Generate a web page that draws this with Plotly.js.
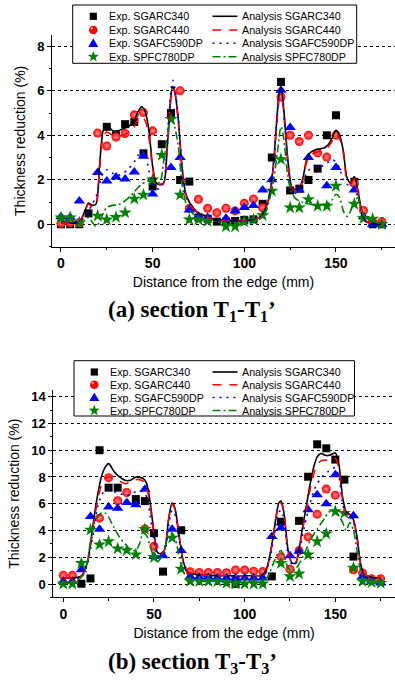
<!DOCTYPE html>
<html>
<head>
<meta charset="utf-8">
<script src="https://cdn.plot.ly/plotly-3.0.1.min.js"></script>
<style>
html,body{margin:0;padding:0;background:#fff;}
#chart{width:395px;height:683px;}
</style>
</head>
<body>
<div id="chart"></div>
<script>
// ---------- Data ----------
const distance = [0,5,10,15,20,25,30,35,40,45,50,55,60,65,70,75,80,85,90,95,100,105,110,115,120,125,130,135,140,145,150,155,160,165,170,175];

// Section T1-T1' experiments
const t1ExpSGARC340  = [0.0,0.0,0.0,0.49,null,4.38,4.0,4.5,4.6,3.19,1.7,3.6,5.0,1.99,1.92,0.3,0.25,0.12,0.12,0.15,0.2,0.22,0.92,3.0,6.4,1.52,1.6,1.99,2.5,4.0,4.9,null,1.91,null,0.0,0.0];
const t1ExpSGARC440  = [0.05,0.07,0.07,null,4.1,3.52,3.92,4.08,4.92,5.02,4.2,null,null,6.0,0.72,1.12,0.72,0.52,0.72,0.6,0.94,1.14,0.74,null,5.72,4.0,3.72,4.0,3.21,3.02,4.0,null,1.84,0.62,0.12,0.12];
const t1ExpSGAFC590DP= [0.34,0.31,1.05,null,2.33,1.94,2.12,2.03,2.35,3.06,1.36,null,2.55,3.0,0.64,0.36,0.3,null,0.27,0.6,0.75,0.84,1.54,2.0,6.03,4.35,1.54,3.0,null,1.73,2.55,null,1.54,0.34,0.0,0.0];
const t1ExpSPFC780DP = [0.3,0.3,0.07,null,0.38,0.21,0.32,0.52,1.14,1.32,2.0,3.11,4.72,1.32,0.21,0.21,0.14,null,-0.1,-0.1,0.12,0.2,0.4,1.5,2.92,0.75,0.75,1.12,0.82,0.82,1.72,null,0.91,0.27,0.24,0.0];

// Section T3-T3' experiments
const t3ExpSGARC340  = [null,null,0.02,0.42,10.0,7.2,7.2,null,6.35,6.2,3.8,0.93,null,4.02,null,null,null,null,null,0.0,null,null,null,0.57,4.65,null,4.72,8.02,10.44,10.14,9.3,7.8,2.05,null,null,null];
const t3ExpSGARC440  = [0.65,0.65,null,null,4.92,7.95,6.22,6.84,null,4.12,2.82,null,null,null,0.92,0.87,0.87,0.87,0.85,1.05,1.05,0.96,0.93,null,2.03,1.1,2.5,3.52,5.22,7.1,6.64,null,1.07,0.82,0.4,0.4];
const t3ExpSGAFC590DP= [0.2,0.2,1.07,5.05,4.1,5.75,5.67,6.1,5.92,7.09,2.06,2.11,4.1,2.5,0.57,0.5,0.5,0.45,0.45,0.45,0.45,0.45,0.45,3.56,4.18,2.11,2.44,5.55,6.67,6.0,8.16,null,5.1,0.57,0.2,0.07];
const t3ExpSPFC780DP = [0.02,0.02,1.55,4.05,2.94,3.18,2.65,2.52,2.2,4.1,2.0,null,3.45,1.12,0.2,0.2,0.2,0.2,0.07,0.02,0.02,0.02,0.02,null,1.55,0.57,0.77,2.19,3.18,3.76,5.42,5.3,1.2,0.2,0.12,0.07];

// Analysis curves (common distance grid)
const analysisX = [0,5,10, 13,15,17,19, 21,23,25, 28,31,34,37, 40,42,44,46,48,50, 52,54,56,58,60, 61,62,64,66,68,70, 74,80,85,90,95,100,105, 108,110,112,114,116,118, 119,120,121,122, 124,126,128,130,132,134,136,138,140, 142,144,146,148,150, 152,154,156,158,160, 162,164,166,170,175];

const t1AnaSGARC340  = [0.05,0.05,0.1, 0.6,0.95,0.85,0.9, 2.6,4.2,4.5, 4.22,4.2,4.3,4.4, 4.7,5.05,5.28,5.05,4.2,2.6, 1.85,1.77,1.85,3.5,5.8, 6.19,6.0,4.7,2.6,1.4,1.0, 0.57,0.33,0.2,0.15,0.13,0.15,0.2, 0.3,0.45,0.8,1.4,2.8,5.0, 5.9,6.15,5.6,4.7, 2.7,1.65,1.55,1.62,2.1,2.9,3.22,3.32,3.37, 3.4,3.45,3.6,3.9,4.22, 4.0,3.3,2.1,1.85,2.15, 1.5,0.6,0.15,0.03,0.0];
const t1AnaSGARC440  = [0.05,0.05,0.1, 0.55,0.9,0.8,0.85, 2.4,3.9,4.15, 4.0,3.95,4.0,4.15, 4.4,4.7,4.85,4.65,3.9,2.5, 1.85,1.8,1.85,3.4,5.7, 6.1,5.95,4.6,2.5,1.35,0.95, 0.55,0.32,0.2,0.15,0.13,0.15,0.2, 0.3,0.45,0.8,1.35,2.7,4.8, 5.6,5.8,5.4,4.5, 2.6,1.6,1.5,1.55,2.0,2.8,3.1,3.2,3.25, 3.3,3.35,3.5,3.75,4.05, 3.85,3.2,2.0,1.8,2.05, 1.4,0.55,0.15,0.03,0.0];
const t1AnaSGAFC590DP= [0.1,0.1,0.15, 0.35,0.6,0.9,1.2, 1.8,2.3,2.45, 2.3,2.2,2.3,2.5, 2.8,3.1,3.3,3.1,2.4,1.8, 1.6,1.6,1.9,3.6,6.0, 6.47,6.2,4.8,2.6,1.3,0.9, 0.5,0.3,0.2,0.15,0.13,0.15,0.2, 0.3,0.45,0.8,1.4,2.8,5.0, 5.9,6.1,5.6,4.6, 2.5,1.5,1.4,1.5,1.9,2.3,2.5,2.55,2.6, 2.6,2.7,2.8,2.9,2.8, 2.5,2.0,1.8,1.7,1.6, 1.2,0.5,0.15,0.03,0.0];
const t1AnaSPFC780DP = [0.15,0.15,0.1, 0.2,0.3,0.1,-0.1, 0.1,0.5,0.75, 0.85,0.87,1.0,1.2, 1.45,1.65,1.8,1.9,1.95,1.9, 1.85,1.9,2.8,4.0,4.84, 4.7,4.4,3.5,1.8,1.0,0.64, 0.35,0.2,0.1,0.05,0.05,0.08,0.15, 0.25,0.35,0.6,1.2,2.0,3.2, 3.9,4.39,4.1,3.5, 2.0,1.4,1.15,1.05,0.98,0.94,0.9,0.87,0.87, 0.88,0.9,0.95,1.1,1.35, 1.2,0.6,0.35,0.6,1.0, 1.2,0.6,0.3,0.12,0.05];

const t3AnaSGARC340  = [0.45,0.45,0.6, 1.5,3.0,5.0,6.7, 8.0,8.7,9.0, 8.4,8.0,7.75,7.75, 8.0,7.96,7.9,7.5,6.0,3.9, 2.35,2.3,2.6,4.8,6.05, 5.9,5.4,3.5,1.8,1.0,0.8, 0.7,0.65,0.62,0.62,0.62,0.62,0.62, 0.62,0.7,1.1,2.2,3.8,5.6, 6.1,6.2,5.8,5.0, 2.5,1.6,1.55,2.6,4.3,5.8,7.4,8.7,9.5, 9.75,9.65,9.6,9.7,9.8, 8.9,6.5,5.4,5.2,4.8, 3.5,1.5,0.7,0.5,0.45];
const t3AnaSGARC440  = [0.45,0.45,0.6, 1.4,2.8,4.7,6.3, 7.4,7.9,8.0, 7.9,7.7,7.5,7.6, 7.8,7.8,7.7,7.2,5.7,3.7, 2.3,2.25,2.6,4.7,5.95, 5.8,5.3,3.4,1.75,1.0,0.8, 0.7,0.65,0.62,0.62,0.62,0.62,0.62, 0.62,0.7,1.1,2.1,3.7,5.5, 6.0,6.05,5.7,4.9, 2.4,1.6,1.55,2.5,4.1,5.5,7.0,8.2,8.9, 9.2,9.25,9.25,9.3,9.4, 8.6,6.3,5.3,5.1,4.7, 3.4,1.4,0.7,0.5,0.45];
const t3AnaSGAFC590DP= [0.3,0.3,0.5, 1.3,2.6,4.3,5.8, 6.6,7.0,7.0, 6.9,6.8,6.6,6.7, 6.9,6.95,6.9,6.5,5.0,3.3, 2.1,2.05,2.4,4.3,5.5, 5.4,5.0,3.2,1.6,0.9,0.7, 0.6,0.55,0.55,0.55,0.55,0.55,0.55, 0.55,0.62,1.0,2.0,3.4,5.0, 5.4,5.5,5.2,4.5, 2.2,1.5,1.45,2.3,3.7,4.9,6.0,6.9,7.5, 7.9,8.2,8.4,8.6,8.7, 8.0,6.0,5.2,5.0,4.6, 3.2,1.3,0.6,0.45,0.4];
const t3AnaSPFC780DP = [0.1,0.15,0.5, 1.5,3.2,4.5,5.0, 5.3,5.3,5.0, 4.2,3.5,3.0,2.6, 2.5,3.0,3.8,3.6,2.8,2.0, 1.7,2.0,2.8,3.5,3.8, 3.6,3.3,2.0,1.0,0.5,0.3, 0.2,0.2,0.2,0.2,0.2,0.2,0.2, 0.2,0.2,0.4,0.9,1.6,2.2, 2.4,2.5,2.3,2.0, 1.2,1.0,1.1,1.5,2.0,2.6,3.2,3.7,4.1, 4.5,4.9,5.3,5.5,5.4, 5.1,4.6,4.0,4.6,4.0, 2.5,1.0,0.4,0.2,0.1];

const expNames = ['Exp. SGARC340','Exp. SGARC440','Exp. SGAFC590DP','Exp. SPFC780DP'];
const anaNames = ['Analysis SGARC340','Analysis SGARC440','Analysis SGAFC590DP','Analysis SPFC780DP'];
const captions = ['<b>(a) section T<sub>1</sub>-T<sub>1</sub>’</b>', '<b>(b) section T<sub>3</sub>-T<sub>3</sub>’</b>'];

// ---------- Styles ----------
const W = 395, H = 683;
const colors = ['#000000','#ff0000','#0000ff','#008000'];
const symbols = ['square','circle','triangle-up','star'];
const msizes = [8,9,10,10];
const dashes = ['solid','9px,8px','2px,5px','8px,3px,2px,3px'];
const fontSans = 'Arial, Liberation Sans, sans-serif';

const traces = [];
function addSection(expSets, anaSets, xa, ya) {
  expSets.forEach((vals, i) => {
    const m = {symbol: symbols[i], size: msizes[i], color: colors[i], line: {width: 0}};
    if (i === 1) m.gradient = {type: 'radial', color: '#ff8c8c'};
    traces.push({
      type: 'scatter', mode: 'markers', x: distance, y: vals, name: expNames[i],
      xaxis: xa, yaxis: ya, showlegend: false, marker: m, cliponaxis: false
    });
  });
  anaSets.forEach((vals, i) => {
    traces.push({
      type: 'scatter', mode: 'lines', x: analysisX, y: vals, name: anaNames[i],
      xaxis: xa, yaxis: ya, showlegend: false,
      line: {color: colors[i], width: 1.6, dash: dashes[i], shape: 'spline', smoothing: 0.8}
    });
  });
}
addSection([t1ExpSGARC340,t1ExpSGARC440,t1ExpSGAFC590DP,t1ExpSPFC780DP],
           [t1AnaSGARC340,t1AnaSGARC440,t1AnaSGAFC590DP,t1AnaSPFC780DP], 'x', 'y');
addSection([t3ExpSGARC340,t3ExpSGARC440,t3ExpSGAFC590DP,t3ExpSPFC780DP],
           [t3AnaSGARC340,t3AnaSGARC440,t3AnaSGAFC590DP,t3AnaSPFC780DP], 'x2', 'y2');

const xTickFont = {family: fontSans, size: 14, color: '#000', weight: 'bold'};
const yTickFont = {family: fontSans, size: 13, color: '#000', weight: 'bold'};
const titleFont = {family: fontSans, size: 14, color: '#000'};

function xAxis(domain, range, anchor) {
  return {
    domain: domain, range: range, anchor: anchor,
    showline: true, linecolor: '#000', linewidth: 1,
    ticks: 'outside', ticklen: 4, tickwidth: 1, tickcolor: '#000',
    tick0: 0, dtick: 50, tickfont: xTickFont,
    minor: {dtick: 25, tick0: 0, ticks: 'outside', ticklen: 2.5, tickcolor: '#000', showgrid: false},
    showgrid: false, zeroline: false,
    title: {text: 'Distance from the edge (mm)', font: titleFont, standoff: 6}
  };
}
function yAxis(domain, range, anchor) {
  return {
    domain: domain, range: range, anchor: anchor,
    showline: true, linecolor: '#000', linewidth: 1,
    ticks: 'outside', ticklen: 4, tickwidth: 1, tickcolor: '#000',
    tick0: 0, dtick: 2, tickfont: yTickFont,
    minor: {dtick: 1, tick0: 0, ticks: 'outside', ticklen: 2.5, tickcolor: '#000', showgrid: false},
    showgrid: true, gridcolor: '#000', gridwidth: 1, griddash: 'dot',
    zeroline: false,
    title: {text: 'Thickness reduction (%)', font: titleFont, standoff: 8}
  };
}

// ---------- Legend boxes (drawn as layout decorations) ----------
const px = v => v / W;
const py = v => 1 - v / H;
const P = (x, y) => px(x) + ',' + py(y);
function glyphPath(kind, cx, cy) {
  if (kind === 'square') {
    const s = 3.6;
    return 'M' + P(cx - s, cy - s) + 'L' + P(cx + s, cy - s) + 'L' + P(cx + s, cy + s) + 'L' + P(cx - s, cy + s) + 'Z';
  }
  if (kind === 'triangle-up') {
    return 'M' + P(cx, cy - 5) + 'L' + P(cx + 5, cy + 3.6) + 'L' + P(cx - 5, cy + 3.6) + 'Z';
  }
  // star
  let d = '';
  for (let k = 0; k < 10; k++) {
    const r = (k % 2 === 0) ? 5.8 : 2.4;
    const a = -Math.PI / 2 + k * Math.PI / 5;
    d += (k === 0 ? 'M' : 'L') + P(cx + r * Math.cos(a), cy + r * Math.sin(a));
  }
  return d + 'Z';
}

const shapes = [];
const annotations = [];
function addLegend(box, rows, markerX, expTextX, lineX0, lineX1, anaTextX) {
  shapes.push({type: 'rect', xref: 'paper', yref: 'paper', layer: 'above',
    x0: px(box[0]), x1: px(box[1]), y0: py(box[3]), y1: py(box[2]),
    fillcolor: '#ffffff', line: {color: '#000', width: 1}});
  rows.forEach((ry, i) => {
    if (symbols[i] === 'circle') {
      shapes.push({type: 'circle', xref: 'paper', yref: 'paper', layer: 'above',
        x0: px(markerX - 4.3), x1: px(markerX + 4.3), y0: py(ry + 4.3), y1: py(ry - 4.3),
        fillcolor: colors[i], line: {width: 0}});
      shapes.push({type: 'circle', xref: 'paper', yref: 'paper', layer: 'above',
        x0: px(markerX - 2.6), x1: px(markerX - 0.4), y0: py(ry - 0.6), y1: py(ry - 2.8),
        fillcolor: '#ffd0d0', line: {width: 0}});
    } else {
      shapes.push({type: 'path', xref: 'paper', yref: 'paper', layer: 'above',
        path: glyphPath(symbols[i], markerX, ry), fillcolor: colors[i], line: {width: 0}});
    }
    shapes.push({type: 'line', xref: 'paper', yref: 'paper', layer: 'above',
      x0: px(lineX0), x1: px(lineX1), y0: py(ry), y1: py(ry),
      line: {color: colors[i], width: 1.6, dash: dashes[i]}});
    annotations.push({xref: 'paper', yref: 'paper', x: px(expTextX), y: py(ry), xanchor: 'left', yanchor: 'middle',
      showarrow: false, text: expNames[i], font: {family: fontSans, size: 10.7, color: '#000'}, borderpad: 0});
    annotations.push({xref: 'paper', yref: 'paper', x: px(anaTextX), y: py(ry), xanchor: 'left', yanchor: 'middle',
      showarrow: false, text: anaNames[i], font: {family: fontSans, size: 10.7, color: '#000'}, borderpad: 0});
  });
}
addLegend([72.7, 356.7, 5, 63.3], [16.3, 30, 43.3, 56.7], 93.3, 107.5, 212.5, 237.5, 240.5);
addLegend([74, 354.5, 360.7, 416], [372, 384.7, 397.5, 410.5], 94.3, 108.5, 212.5, 237.5, 240.5);

annotations.push(
  {xref: 'paper', yref: 'paper', x: px(192), y: py(311), xanchor: 'center', yanchor: 'middle', showarrow: false,
   text: captions[0], font: {family: 'Liberation Serif, Times New Roman, serif', size: 23, color: '#000'}},
  {xref: 'paper', yref: 'paper', x: px(192), y: py(663), xanchor: 'center', yanchor: 'middle', showarrow: false,
   text: captions[1], font: {family: 'Liberation Serif, Times New Roman, serif', size: 23, color: '#000'}}
);

const layout = {
  width: W, height: H,
  margin: {l: 0, r: 0, t: 0, b: 0},
  paper_bgcolor: '#fff', plot_bgcolor: '#fff',
  showlegend: false,
  xaxis: xAxis([52/W, 1], [-4.9, 182.2], 'y'),
  yaxis: yAxis([1 - 246.5/H, 1 - 35.2/H], [-1, 8.5], 'x'),
  xaxis2: xAxis([53.3/W, 1], [-5.5, 182.9], 'y2'),
  yaxis2: yAxis([1 - 597.4/H, 1 - 390/H], [-1, 14.5], 'x2'),
  shapes: shapes,
  annotations: annotations
};

Plotly.newPlot('chart', traces, layout, {staticPlot: true, displayModeBar: false});
</script>
</body>
</html>
